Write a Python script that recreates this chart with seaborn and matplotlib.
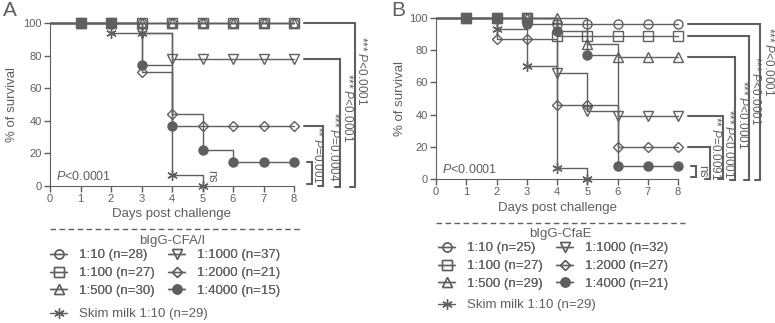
import numpy as np
import pandas as pd
import matplotlib
matplotlib.use("Agg")
from matplotlib import pyplot as plt
from matplotlib.lines import Line2D
import seaborn as sns

# %% data (day 0 = start, no marker)
days = [0, 1, 2, 3, 4, 5, 6, 7, 8]

groups_A = ["1:10 (n=28)", "1:100 (n=27)", "1:500 (n=30)", "Skim milk 1:10 (n=29)",
            "1:1000 (n=37)", "1:2000 (n=21)", "1:4000 (n=15)"]
surv_A = {
    "1:10 (n=28)":   [100, 100, 100, 100, 100, 100, 100, 100, 100],
    "1:100 (n=27)":  [100, 100, 100, 100, 100, 100, 100, 100, 100],
    "1:500 (n=30)":  [100, 100, 100, 100, 100, 100, 100, 100, 100],
    "Skim milk 1:10 (n=29)": [100, 100, 94, 94, 7, 0],
    "1:1000 (n=37)": [100, 100, 100, 94, 78, 78, 78, 78, 78],
    "1:2000 (n=21)": [100, 100, 100, 70, 44, 37, 37, 37, 37],
    "1:4000 (n=15)": [100, 100, 100, 74, 37, 22, 14.5, 14.5, 14.5],
}

groups_B = ["1:10 (n=25)", "1:100 (n=27)", "1:500 (n=29)", "Skim milk 1:10 (n=29)",
            "1:1000 (n=32)", "1:2000 (n=27)", "1:4000 (n=21)"]
surv_B = {
    "1:10 (n=25)":   [100, 100, 100, 100, 96, 96, 96, 96, 96],
    "1:100 (n=27)":  [100, 100, 100, 100, 89, 89, 89, 89, 89],
    "1:500 (n=29)":  [100, 100, 100, 100, 100, 84, 76, 76, 76],
    "Skim milk 1:10 (n=29)": [100, 100, 93, 70, 7, 0],
    "1:1000 (n=32)": [100, 100, 100, 100, 66, 42, 39, 39, 39],
    "1:2000 (n=27)": [100, 100, 87, 87, 46, 46, 20, 20, 20],
    "1:4000 (n=21)": [100, 100, 100, 96, 92, 77, 8, 8, 8],
}

# comparisons vs skim milk: (top level, label)
comp_A = [(100, "*** $P$<0.0001"), (78, "*** $P$<0.0001"), (37, "*** $P$=0.0004"), (14.5, "** $P$=0.001")]
comp_B = [(96, "*** $P$<0.0001"), (89, "*** $P$<0.0001"), (76, "*** $P$<0.0001"),
          (39, "*** $P$<0.0001"), (20, "** $P$=0.0091"), (8, "ns")]

markers = ["o", "s", "^", (6, 2, 0), "v", "D", "o"]
filled = [False, False, False, False, False, False, True]
msizes = [6.5, 6.5, 6.5, 7.5, 6.5, 5.5, 6.5]

GREY = "#5f5f5f"

sns.set_style("ticks")
plt.rcParams["font.family"] = ["Liberation Sans", "DejaVu Sans"]
plt.rcParams["mathtext.fontset"] = "custom"
plt.rcParams["mathtext.rm"] = "Liberation Sans"
plt.rcParams["mathtext.it"] = "Liberation Sans:italic"
plt.rcParams["text.color"] = GREY
plt.rcParams["axes.labelcolor"] = GREY
plt.rcParams["xtick.color"] = GREY
plt.rcParams["ytick.color"] = GREY
plt.rcParams["axes.edgecolor"] = GREY

W, H = 775, 323
fig = plt.figure(figsize=(W / 100, H / 100), dpi=100)


def px_axes(l, r, t, b):
    return fig.add_axes([l / W, 1 - b / H, (r - l) / W, (b - t) / H])


def draw_panel(ax, groups, surv):
    order = [0, 1, 2, 4, 5, 3, 6]
    handles = []
    for i in range(len(groups)):
        handles.append(Line2D([], [], color=GREY, lw=1, marker=markers[i], ms=msizes[i],
                              mfc=GREY if filled[i] else "none", mec=GREY, mew=1))
    for i in order:
        g = groups[i]
        vals = surv[g]
        df = pd.DataFrame({"day": days[:len(vals)], "surv": vals})
        sns.lineplot(data=df, x="day", y="surv", ax=ax, estimator=None, sort=False,
                     drawstyle="steps-post", color=GREY, lw=1,
                     marker=markers[i], markersize=msizes[i], markevery=slice(1, None),
                     markerfacecolor=GREY if filled[i] else "none",
                     markeredgecolor=GREY, markeredgewidth=1, clip_on=False, zorder=3)
    ax.set_xlim(0, 8)
    ax.set_ylim(0, 100)
    ax.set_xticks(range(0, 9))
    ax.set_yticks(range(0, 101, 20))
    ax.tick_params(labelsize=8, length=4, width=1, pad=2)
    sns.despine(ax=ax)
    ax.set_xlabel("Days post challenge", fontsize=9.5, labelpad=3)
    ax.set_ylabel("% of survival", fontsize=9.5)
    ax.text(0.2, 6, "$P$<0.0001", fontsize=9, ha="left", va="center")
    return handles


def brackets(ax, comps, xs, bottoms, labx, laby, start=8.32):
    for (lev, lab), xb, yb, lx, ly in zip(comps, xs, bottoms, labx, laby):
        x0 = start if xb - start > 0.3 else xb - 0.17
        ax.plot([x0, xb, xb, xb - 0.16], [lev, lev, yb, yb], color=GREY, lw=1.5,
                clip_on=False, solid_joinstyle="miter")
        ax.text(lx, ly, lab, rotation=270, fontsize=8.5, ha="center", va="center")


# %% panel A
axA = px_axes(50, 294, 23, 186)
hA = draw_panel(axA, groups_A, surv_A)
brackets(axA, comp_A, [10.0, 9.51, 8.95, 8.59], [-0.5, -0.5, 0, 1.5],
         [10.2, 9.75, 9.3, 8.78], [71, 48, 24, 19])
axA.text(5.27, 6, "ns", rotation=270, fontsize=8.5, ha="center", va="center")
axA.yaxis.set_label_coords(-0.13, 0.5)

# %% panel B
axB = px_axes(436, 678, 18, 179)
hB = draw_panel(axB, groups_B, surv_B)
brackets(axB, comp_B, [10.71, 10.35, 9.88, 9.49, 9.06, 8.6], [-0.5, -0.5, -0.5, 0, 0, 1.5],
         [10.98, 10.57, 10.13, 9.68, 9.25, 8.8], [73, 55, 40, 22, 19, 5])
axB.yaxis.set_label_coords(-0.124, 0.5)

# %% legends with dashed separator
leg_kw = dict(loc="upper left", frameon=False, fontsize=9.5, handlelength=1.3,
              handletextpad=0.9, columnspacing=1.0, labelspacing=0.43,
              borderpad=0, borderaxespad=0)
for handles, groups, title, cx, ty, x0, row1, skim_y, (l, r, yl) in [
        (hA, groups_A, "bIgG-CFA/I", 172, 241, 50, 257, 316, (50, 300, 229)),
        (hB, groups_B, "bIgG-CfaE", 560, 234, 438, 250, 307, (436, 685, 223))]:
    idx = [0, 1, 2, 4, 5, 6]
    leg = fig.legend([handles[i] for i in idx], [groups[i] for i in idx], ncol=2,
                     bbox_to_anchor=(x0 / W, 1 - (row1 - 8) / H), **leg_kw)
    fig.add_artist(leg)
    leg2 = fig.legend([handles[3]], [groups[3]],
                      bbox_to_anchor=(x0 / W, 1 - (skim_y - 8) / H), **leg_kw)
    for lg in (leg, leg2):
        for t in lg.get_texts():
            t.set_color(GREY)
    fig.text(cx / W, 1 - ty / H, title, fontsize=9.5, ha="center", va="center")
    fig.add_artist(Line2D([l / W, r / W], [1 - yl / H, 1 - yl / H], color=GREY, lw=1,
                          linestyle=(0, (4, 2.5))))

fig.text(3 / W, 1 - 11 / H, "A", fontsize=15, va="center", ha="left")
fig.text(391 / W, 1 - 10 / H, "B", fontsize=15, va="center", ha="left")

fig.savefig("out.png", dpi=100)
